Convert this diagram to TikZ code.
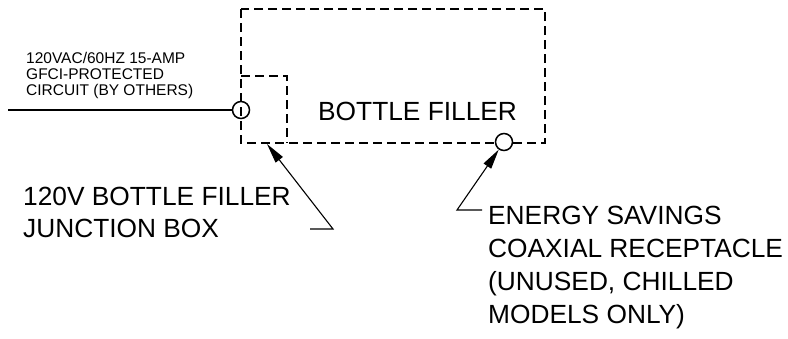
\documentclass[tikz,border=0pt]{standalone}
\usepackage{fontspec}
\setmainfont{Liberation Sans}
\usetikzlibrary{arrows.meta}

\tikzset{
  hidden/.style={line width=1.8pt, dash pattern=on 9pt off 5pt},
  wire/.style={line width=1.6pt},
  pointer/.style={line width=1.1pt, -{Triangle[length=20pt,width=9pt,fill=black]}},
  port/.style={circle, draw, line width=1.5pt, minimum size=17pt, inner sep=0pt},
  tag/.style={anchor=base west, align=left, inner sep=0pt},
}

\begin{document}
\begin{tikzpicture}[x=1pt,y=-1pt]
\useasboundingbox (0,0) rectangle (788,338);
% filler outline and junction box
\draw[hidden] (241,9) rectangle (545,143);
\draw[hidden] (241,76) -- (287,76) -- (287,143);
\draw
  (241,110) node[port] (feed) {}
  (504,142) node[port, fill=white] (coax) {}
  ;
\coordinate (wend) at (8,110);
\coordinate (jtip) at (267,144);
\coordinate (jbend) at (333,229);
\coordinate (jend) at (310,229);
\coordinate (ebend) at (457,210);
\coordinate (eend) at (482,210);
% labels (base = last line)
\node[tag, font=\fontsize{15.5}{16}\selectfont] (circuit) at (26,95)
  {120VAC/60HZ 15-AMP\\GFCI-PROTECTED\\CIRCUIT (BY OTHERS)};
\node[tag, font=\fontsize{26.3}{29}\selectfont] (filler) at (318,120) {BOTTLE FILLER};
\node[tag, font=\fontsize{26.3}{32}\selectfont] (jbox) at (23,237)
  {120V BOTTLE FILLER\\JUNCTION BOX};
\node[tag, font=\fontsize{26.3}{32.7}\selectfont] (energy) at (488,323)
  {ENERGY SAVINGS\\COAXIAL RECEPTACLE\\(UNUSED, CHILLED\\MODELS ONLY)};
% connectors
\draw[wire] (wend) -- (feed);
\draw[pointer] (jend) -- (jbend) -- (jtip);
\draw[pointer] (eend) -- (ebend) -- (coax);
\end{tikzpicture}
\end{document}
